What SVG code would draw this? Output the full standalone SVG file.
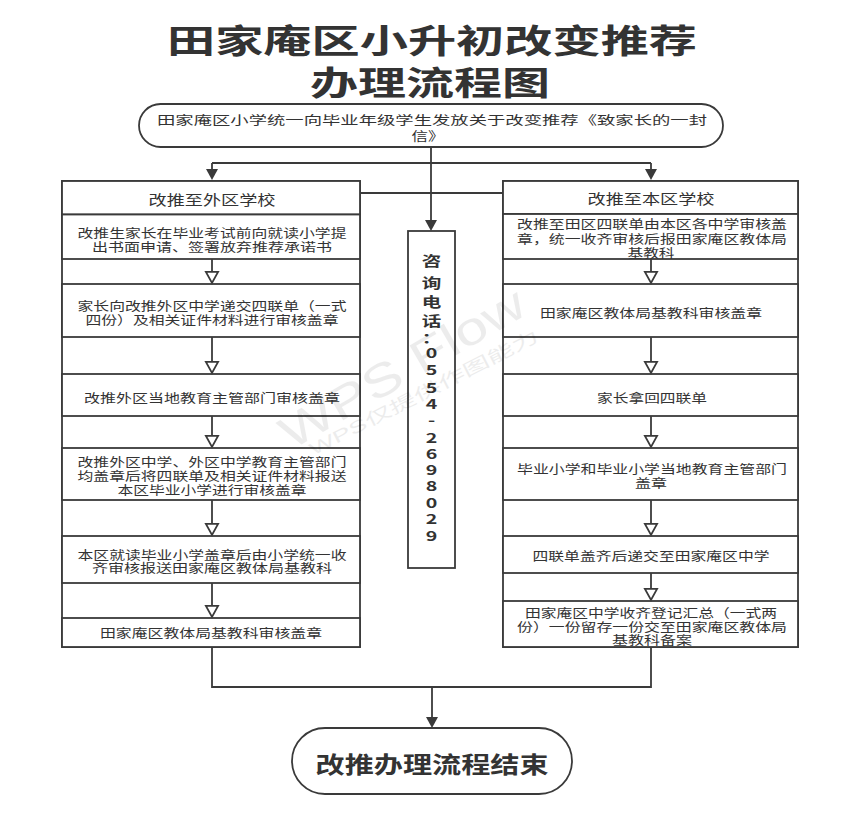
<svg xmlns="http://www.w3.org/2000/svg" width="863" height="818" viewBox="0 0 863 818">
<style>
  .bx{fill:#fff;stroke:#3a3a3a;stroke-width:1.8}
  .ct{fill:none;stroke:#3a3a3a;stroke-width:1.8}
  .ln{fill:none;stroke:#3a3a3a;stroke-width:1.8}
  .t{font-family:"Noto Sans CJK SC","Noto Sans",sans-serif;font-size:12.5px;fill:#333;text-anchor:middle;dominant-baseline:central}
  .h{font-size:14px}
  .ti{font-family:"Noto Sans CJK SC","Noto Sans",sans-serif;font-weight:700;font-size:33px;fill:#333;text-anchor:middle;dominant-baseline:central}
  .end{font-family:"Noto Sans CJK SC","Noto Sans",sans-serif;font-weight:700;font-size:23px;fill:#333;text-anchor:middle;dominant-baseline:central}
  .ph{font-family:"Noto Sans CJK SC","Noto Sans",sans-serif;font-weight:700;font-size:13.5px;fill:#333;text-anchor:middle;dominant-baseline:central}
  .wm{font-family:"Liberation Sans","Noto Sans CJK SC",sans-serif;fill:#000;text-anchor:middle;dominant-baseline:central}
</style>
<defs>
  <marker id="af" markerUnits="userSpaceOnUse" markerWidth="14" markerHeight="14" refX="0" refY="7" orient="auto" overflow="visible">
    <path d="M0,1 L11,7 L0,13 z" fill="#3a3a3a"/>
  </marker>
  <marker id="ah" markerUnits="userSpaceOnUse" markerWidth="16" markerHeight="16" refX="0" refY="7" orient="auto" overflow="visible">
    <path d="M0.9,0.9 L12,7 L0.9,13.1 z" fill="#fff" stroke="#3a3a3a" stroke-width="1.8" stroke-linejoin="miter"/>
  </marker>
</defs>
<rect width="863" height="818" fill="#fff"/>

<g id="title">
  <text class="ti"><tspan x="432" y="39" textLength="530" lengthAdjust="spacingAndGlyphs">田家庵区小升初改变推荐</tspan><tspan x="430" y="81" textLength="240" lengthAdjust="spacingAndGlyphs">办理流程图</tspan></text>
</g>

<g id="start">
  <rect class="bx" x="139" y="104" width="584" height="43" rx="21.5"/>
  <text class="t"><tspan x="432" y="119" textLength="550" lengthAdjust="spacingAndGlyphs">田家庵区小学统一向毕业年级学生发放关于改变推荐《致家长的一封</tspan><tspan x="428" y="135" textLength="33" lengthAdjust="spacingAndGlyphs">信》</tspan></text>
</g>

<g id="left-column">
  <rect class="ct" x="62" y="181" width="298" height="466"/>
  <g id="L0"><rect class="bx" x="62" y="181" width="298" height="33.5"/>
    <text class="t h" x="212" y="199" textLength="127" lengthAdjust="spacingAndGlyphs">改推至外区学校</text></g>
  <g id="L1"><rect class="bx" x="62" y="214.5" width="298" height="44.5"/>
    <text class="t"><tspan x="212" y="232" textLength="269" lengthAdjust="spacingAndGlyphs">改推生家长在毕业考试前向就读小学提</tspan><tspan x="212" y="246" textLength="240" lengthAdjust="spacingAndGlyphs">出书面申请、签署放弃推荐承诺书</tspan></text></g>
  <g id="L2"><rect class="bx" x="62" y="284" width="298" height="53"/>
    <text class="t"><tspan x="212" y="305" textLength="269" lengthAdjust="spacingAndGlyphs">家长向改推外区中学递交四联单（一式</tspan><tspan x="212" y="319" textLength="253" lengthAdjust="spacingAndGlyphs">四份）及相关证件材料进行审核盖章</tspan></text></g>
  <g id="L3"><rect class="bx" x="62" y="374" width="298" height="42"/>
    <text class="t" x="212" y="397" textLength="256" lengthAdjust="spacingAndGlyphs">改推外区当地教育主管部门审核盖章</text></g>
  <g id="L4"><rect class="bx" x="62" y="448" width="298" height="52"/>
    <text class="t"><tspan x="212" y="461" textLength="269" lengthAdjust="spacingAndGlyphs">改推外区中学、外区中学教育主管部门</tspan><tspan x="212" y="475" textLength="269" lengthAdjust="spacingAndGlyphs">均盖章后将四联单及相关证件材料报送</tspan><tspan x="212" y="489" textLength="189" lengthAdjust="spacingAndGlyphs">本区毕业小学进行审核盖章</tspan></text></g>
  <g id="L5"><rect class="bx" x="62" y="536" width="298" height="47"/>
    <text class="t"><tspan x="212" y="554" textLength="269" lengthAdjust="spacingAndGlyphs">本区就读毕业小学盖章后由小学统一收</tspan><tspan x="212" y="567" textLength="240" lengthAdjust="spacingAndGlyphs">齐审核报送田家庵区教体局基教科</tspan></text></g>
  <g id="L6"><rect class="bx" x="62" y="618" width="298" height="29"/>
    <text class="t" x="211" y="632" textLength="222" lengthAdjust="spacingAndGlyphs">田家庵区教体局基教科审核盖章</text></g>
</g>

<g id="right-column">
  <rect class="ct" x="503" y="181" width="295" height="466"/>
  <g id="R0"><rect class="bx" x="503" y="181" width="295" height="33"/>
    <text class="t h" x="651" y="198" textLength="127" lengthAdjust="spacingAndGlyphs">改推至本区学校</text></g>
  <g id="R1"><rect class="bx" x="503" y="214" width="295" height="45"/>
    <text class="t"><tspan x="652" y="223" textLength="270" lengthAdjust="spacingAndGlyphs">改推至田区四联单由本区各中学审核盖</tspan><tspan x="652" y="238" textLength="270" lengthAdjust="spacingAndGlyphs">章，统一收齐审核后报田家庵区教体局</tspan><tspan x="651" y="252" textLength="47" lengthAdjust="spacingAndGlyphs">基教科</tspan></text></g>
  <g id="R2"><rect class="bx" x="503" y="284" width="295" height="53"/>
    <text class="t" x="651" y="312" textLength="222" lengthAdjust="spacingAndGlyphs">田家庵区教体局基教科审核盖章</text></g>
  <g id="R3"><rect class="bx" x="503" y="374" width="295" height="42"/>
    <text class="t" x="652" y="397" textLength="110" lengthAdjust="spacingAndGlyphs">家长拿回四联单</text></g>
  <g id="R4"><rect class="bx" x="503" y="448" width="295" height="52"/>
    <text class="t"><tspan x="652" y="468" textLength="270" lengthAdjust="spacingAndGlyphs">毕业小学和毕业小学当地教育主管部门</tspan><tspan x="651" y="482" textLength="32" lengthAdjust="spacingAndGlyphs">盖章</tspan></text></g>
  <g id="R5"><rect class="bx" x="503" y="536" width="295" height="37"/>
    <text class="t" x="651" y="555" textLength="237" lengthAdjust="spacingAndGlyphs">四联单盖齐后递交至田家庵区中学</text></g>
  <g id="R6"><rect class="bx" x="503" y="601" width="295" height="46"/>
    <text class="t"><tspan x="651" y="612" textLength="252" lengthAdjust="spacingAndGlyphs">田家庵区中学收齐登记汇总（一式两</tspan><tspan x="652" y="626" textLength="270" lengthAdjust="spacingAndGlyphs">份）一份留存一份交至田家庵区教体局</tspan><tspan x="652" y="639" textLength="80" lengthAdjust="spacingAndGlyphs">基教科备案</tspan></text></g>
</g>

<g id="phone">
  <rect class="bx" x="408" y="231" width="47" height="337"/>
  <g transform="translate(431.5,0) scale(1.45,1)">
    <text class="ph"><tspan x="0" y="260">咨</tspan><tspan x="0" y="282">询</tspan><tspan x="0" y="301">电</tspan><tspan x="0" y="320">话</tspan><tspan x="0" y="337">：</tspan><tspan x="0" y="352">0</tspan><tspan x="0" y="369">5</tspan><tspan x="0" y="387">5</tspan><tspan x="0" y="403">4</tspan><tspan x="0" y="419">-</tspan><tspan x="0" y="437">2</tspan><tspan x="0" y="453">6</tspan><tspan x="0" y="469">9</tspan><tspan x="0" y="485">8</tspan><tspan x="0" y="502">0</tspan><tspan x="0" y="518">2</tspan><tspan x="0" y="535">9</tspan></text>
  </g>
</g>

<g id="end">
  <rect class="bx" x="292" y="728" width="280" height="66" rx="33"/>
  <text class="end" x="432" y="763" textLength="233" lengthAdjust="spacingAndGlyphs">改推办理流程结束</text>
</g>

<g id="connectors">
  <path class="ln" d="M431,147 V163 M212,163 H651"/>
  <path class="ln" d="M212,163 V169" marker-end="url(#af)"/>
  <path class="ln" d="M651,163 V169" marker-end="url(#af)"/>
  <path class="ln" d="M431,163 V220" marker-end="url(#af)"/>
  <path class="ln" d="M360,193 H503"/>
  <path class="ln" d="M212,259 V271" marker-end="url(#ah)"/>
  <path class="ln" d="M212,337 V361" marker-end="url(#ah)"/>
  <path class="ln" d="M212,416 V435" marker-end="url(#ah)"/>
  <path class="ln" d="M212,500 V523" marker-end="url(#ah)"/>
  <path class="ln" d="M212,583 V605" marker-end="url(#ah)"/>
  <path class="ln" d="M651,259 V271" marker-end="url(#ah)"/>
  <path class="ln" d="M651,337 V361" marker-end="url(#ah)"/>
  <path class="ln" d="M651,416 V435" marker-end="url(#ah)"/>
  <path class="ln" d="M651,500 V523" marker-end="url(#ah)"/>
  <path class="ln" d="M651,573 V588" marker-end="url(#ah)"/>
  <path class="ln" d="M212,647 V687 H651 V647"/>
  <path class="ln" d="M432,687 V717" marker-end="url(#af)"/>
</g>

<g id="watermark" opacity="0.07">
  <text class="wm" x="402" y="368" font-size="46" textLength="275" lengthAdjust="spacingAndGlyphs" transform="rotate(-30,402,368)">WPS Flow</text>
  <text class="wm" x="424" y="393" font-size="17" textLength="255" lengthAdjust="spacingAndGlyphs" transform="rotate(-27,424,393)">WPS仅提供作图能力</text>
</g>
</svg>
